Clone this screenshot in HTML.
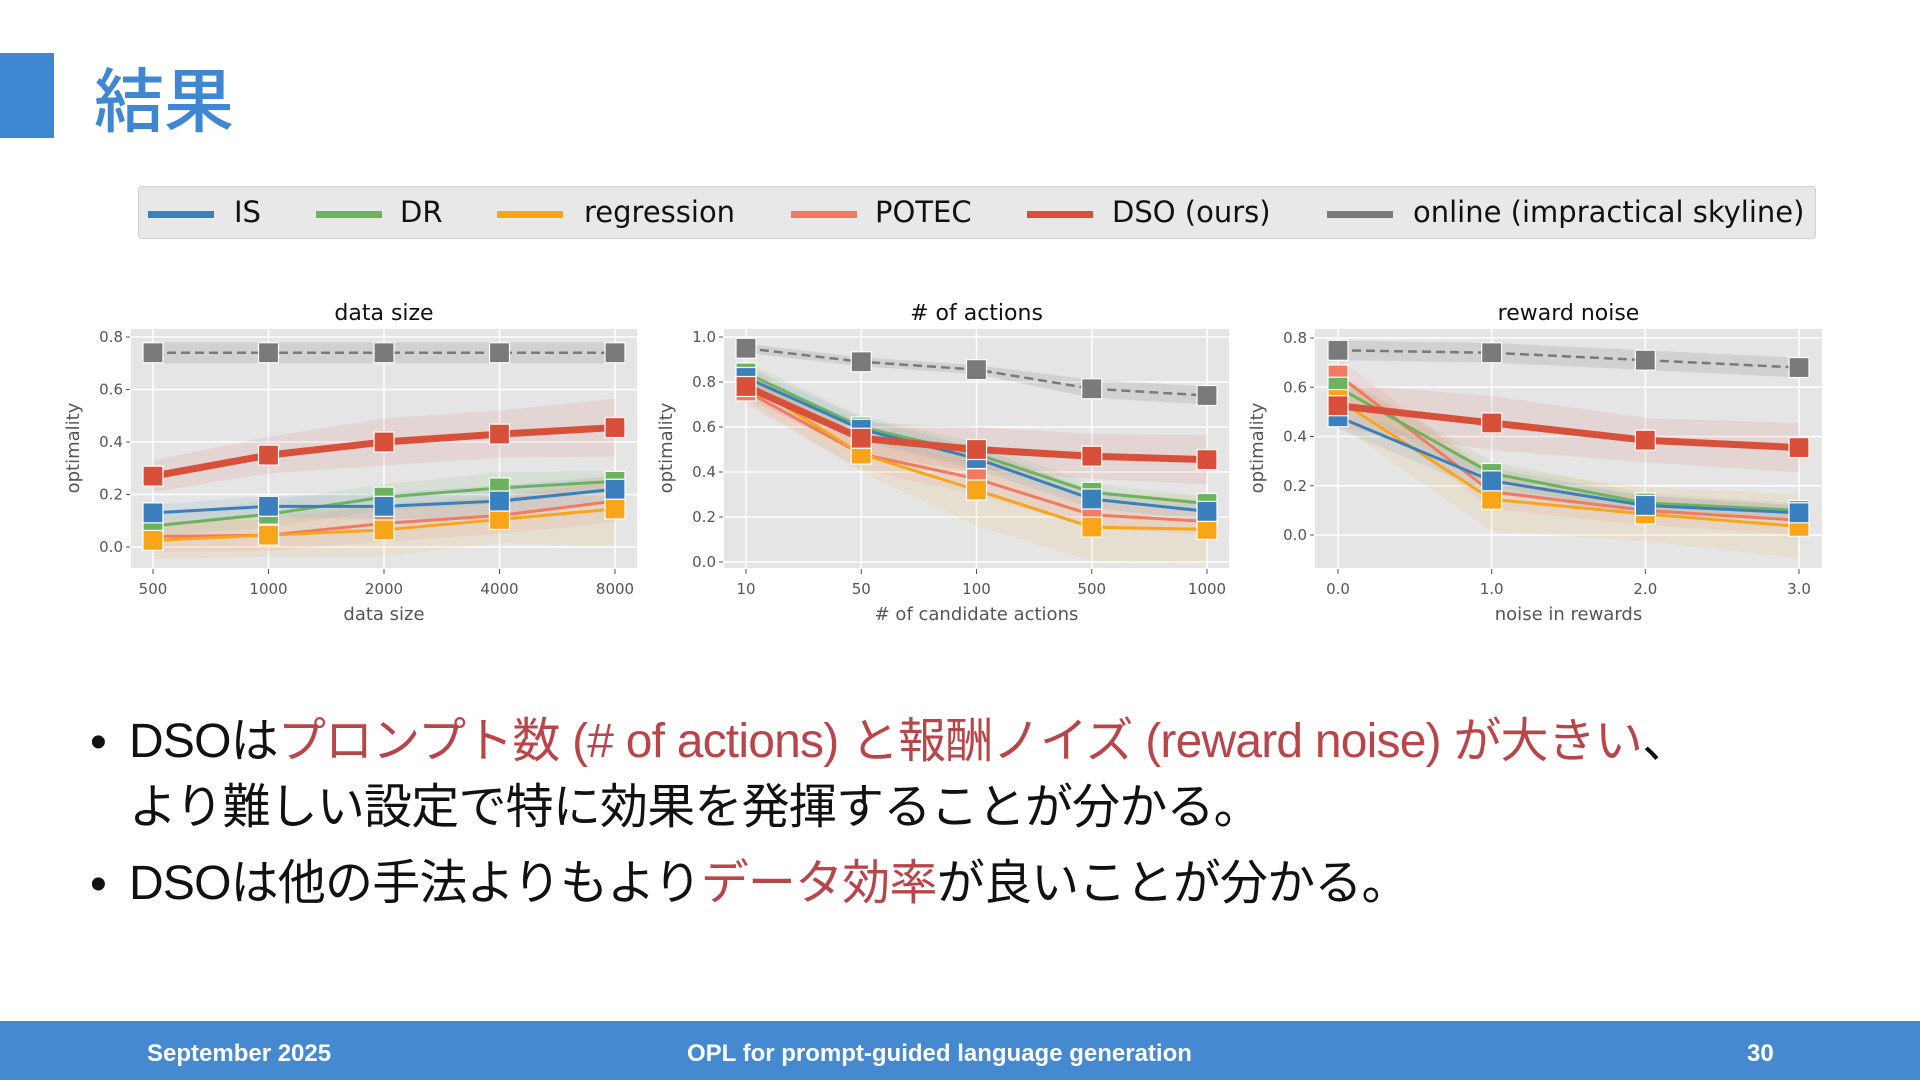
<!DOCTYPE html>
<html><head><meta charset="utf-8">
<style>
body{margin:0;width:1920px;height:1080px;background:#fff;position:relative;overflow:hidden;font-family:"Liberation Sans","Noto Sans CJK JP",sans-serif}
.abs{position:absolute}
#bar{left:0;top:53px;width:54px;height:85px;background:#3f87d0}
#title{left:94px;top:52px;font-size:70px;color:#3f87d0;font-family:"Noto Sans CJK JP",sans-serif;line-height:90px;font-weight:500}
#legend{left:138px;top:186px;width:1676px;height:51px;background:#e8e8e8;border:1px solid #cfcfcf;border-radius:4px}
.li{position:absolute;top:24px;height:7px;width:66px}
.lt{position:absolute;top:8px;font-size:29px;font-family:"DejaVu Sans",sans-serif;color:#111;white-space:nowrap;line-height:34px}
.bul{font-size:48px;white-space:nowrap;line-height:60px;color:#111;font-family:"Liberation Sans","Noto Sans CJK JP",sans-serif;letter-spacing:-0.8px}
.dot{font-size:48px;line-height:60px;color:#111}
.red{color:#b8454a}
#footer{left:0;top:1021px;width:1920px;height:59px;background:#4589d1}
.ft{position:absolute;top:19px;color:#fff;font-weight:bold;font-size:24px;font-family:"Liberation Sans",sans-serif;white-space:nowrap}
</style></head><body>
<div class="abs" id="bar"></div>
<div class="abs" id="title">結果</div>

<div class="abs" id="legend">
 <div class="li" style="left:9px;background:#3a80bd"></div><div class="lt" style="left:95px">IS</div>
 <div class="li" style="left:177px;background:#6cb35e"></div><div class="lt" style="left:261px">DR</div>
 <div class="li" style="left:358px;background:#f9a51a"></div><div class="lt" style="left:445px">regression</div>
 <div class="li" style="left:652px;background:#f27a62"></div><div class="lt" style="left:736px">POTEC</div>
 <div class="li" style="left:888px;background:#d9503a"></div><div class="lt" style="left:973px">DSO (ours)</div>
 <div class="li" style="left:1188px;background:#7a7a7a"></div><div class="lt" style="left:1274px">online (impractical skyline)</div>
</div>

<svg class="abs" id="charts" style="left:0;top:0" width="1920" height="700"></svg>

<div class="abs dot" style="left:90px;top:713px">•</div>
<div class="abs bul" style="left:129px;top:712px">DSOは<span class="red">プロンプト数 (# of actions) と報酬ノイズ (reward noise) が大きい</span>、</div>
<div class="abs bul" style="left:129px;top:778px">より難しい設定で特に効果を発揮することが分かる。</div>
<div class="abs dot" style="left:90px;top:855px">•</div>
<div class="abs bul" style="left:129px;top:854px">DSOは他の手法よりもより<span class="red">データ効率</span>が良いことが分かる。</div>

<div class="abs" id="footer">
 <div class="ft" style="left:147px">September 2025</div>
 <div class="ft" style="left:687px">OPL for prompt-guided language generation</div>
 <div class="ft" style="left:1747px">30</div>
</div>

<script>
// ---- data ----
const seriesNames = ["online","IS","DR","regression","POTEC","DSO"];
const seriesColors = ["#7a7a7a","#3a80bd","#6cb35e","#f9a51a","#f27a62","#d9503a"];

const c1Cats = ["500","1000","2000","4000","8000"];
const c1Online = [0.74,0.74,0.74,0.74,0.74];
const c1IS = [0.13,0.155,0.155,0.175,0.22];
const c1DR = [0.08,0.125,0.19,0.225,0.25];
const c1Reg = [0.025,0.045,0.065,0.105,0.145];
const c1Potec = [0.04,0.045,0.09,0.12,0.175];
const c1DSO = [0.27,0.35,0.40,0.43,0.455];
const c1OnlineErr = [0.04,0.04,0.04,0.04,0.04];
const c1ISErr = [0.03,0.04,0.05,0.06,0.05];
const c1DRErr = [0.04,0.05,0.05,0.06,0.04];
const c1RegErr = [0.07,0.08,0.10,0.09,0.14];
const c1PotecErr = [0.06,0.06,0.07,0.07,0.08];
const c1DSOErr = [0.06,0.07,0.09,0.09,0.11];
const c1Ticks = [0,0.2,0.4,0.6,0.8];

const c2Cats = ["10","50","100","500","1000"];
const c2Online = [0.95,0.89,0.855,0.77,0.74];
const c2IS = [0.82,0.59,0.46,0.28,0.225];
const c2DR = [0.84,0.60,0.48,0.31,0.26];
const c2Reg = [0.80,0.48,0.32,0.155,0.145];
const c2Potec = [0.76,0.48,0.37,0.21,0.18];
const c2DSO = [0.78,0.55,0.50,0.47,0.455];
const c2OnlineErr = [0.02,0.02,0.02,0.04,0.04];
const c2ISErr = [0.05,0.05,0.05,0.04,0.04];
const c2DRErr = [0.05,0.05,0.05,0.04,0.03];
const c2RegErr = [0.08,0.08,0.16,0.15,0.15];
const c2PotecErr = [0.06,0.07,0.07,0.06,0.06];
const c2DSOErr = [0.05,0.07,0.10,0.10,0.11];
const c2Ticks = [0,0.2,0.4,0.6,0.8,1.0];

const c3Cats = ["0.0","1.0","2.0","3.0"];
const c3Online = [0.75,0.74,0.71,0.68];
const c3IS = [0.48,0.22,0.12,0.09];
const c3DR = [0.60,0.25,0.13,0.10];
const c3Reg = [0.55,0.145,0.085,0.035];
const c3Potec = [0.65,0.175,0.10,0.06];
const c3DSO = [0.525,0.455,0.385,0.355];
const c3OnlineErr = [0.04,0.04,0.04,0.04];
const c3ISErr = [0.05,0.05,0.04,0.03];
const c3DRErr = [0.05,0.05,0.04,0.03];
const c3RegErr = [0.10,0.13,0.11,0.13];
const c3PotecErr = [0.07,0.07,0.06,0.06];
const c3DSOErr = [0.09,0.11,0.09,0.10];
const c3Ticks = [0,0.2,0.4,0.6,0.8];

// draw order of series (indices into seriesNames)
const drawOrder = [0,4,2,3,1,5];

// ---- drawing ----
const NS="http://www.w3.org/2000/svg";
const svg=document.getElementById('charts');
function mk(tag,attrs,parent){const e=document.createElementNS(NS,tag);for(const k in attrs)e.setAttribute(k,attrs[k]);(parent||svg).appendChild(e);return e;}

function drawChart(cfg){
  const g=mk('g',{});
  
  
  const n=cfg.cats.length;
  const xs=i=>cfg.x0+(cfg.x1-cfg.x0)*i/(n-1);
  const ys=v=>cfg.yZero+(cfg.yTop-cfg.yZero)*(v/cfg.topVal);
  const bg=mk('rect',{x:cfg.px0,y:329,width:cfg.px1-cfg.px0,height:239,fill:'#e5e5e5'},g);
  
  
  cfg.ticks.forEach(t=>{
    mk('line',{x1:cfg.px0,x2:cfg.px1,y1:ys(t),y2:ys(t),stroke:'#fff','stroke-width':1.5},g);
    mk('line',{x1:cfg.px0-5,x2:cfg.px0-1,y1:ys(t),y2:ys(t),stroke:'#555','stroke-width':1},g);
    const tl=mk('text',{x:cfg.px0-8,y:ys(t)+5,'text-anchor':'end','font-size':15,fill:'#555','font-family':'DejaVu Sans, sans-serif'},g);
    tl.textContent=t.toFixed(1);
    
    
  });
  cfg.cats.forEach((c,i)=>{
    mk('line',{x1:xs(i),x2:xs(i),y1:329,y2:568,stroke:'#fff','stroke-width':1.5},g);
    mk('line',{x1:xs(i),x2:xs(i),y1:569,y2:574,stroke:'#555','stroke-width':1},g);
    const tl=mk('text',{x:xs(i),y:594,'text-anchor':'middle','font-size':15,fill:'#555','font-family':'DejaVu Sans, sans-serif'},g);
    tl.textContent=c;
    
    
  });
  const mid=(cfg.px0+cfg.px1)/2;
  const tt=mk('text',{x:mid,y:320,'text-anchor':'middle','font-size':22,fill:'#111','font-family':'DejaVu Sans, sans-serif'},g);
  tt.textContent=cfg.title;
  
  
  const xl=mk('text',{x:mid,y:620,'text-anchor':'middle','font-size':18,fill:'#555','font-family':'DejaVu Sans, sans-serif'},g);
  xl.textContent=cfg.xlabel;
  
  
  const yl=mk('text',{x:0,y:0,'text-anchor':'middle','font-size':18,fill:'#555','font-family':'DejaVu Sans, sans-serif',transform:`translate(${cfg.px0-52},448) rotate(-90)`},g);
  yl.textContent='optimality';
  
  
  // bands
  drawOrder.forEach(si=>{
    const s=cfg.series[si];
    let pts=s.v.map((v,i)=>xs(i)+','+ys(v+s.e[i]));
    for(let i=n-1;i>=0;i--)pts.push(xs(i)+','+ys(s.v[i]-s.e[i]));
    const b=mk('polygon',{points:pts.join(' '),fill:seriesColors[si],'fill-opacity':si===0?0.18:0.1},g);
    
    
  });
  drawOrder.forEach(si=>{
    const s=cfg.series[si];
    const d=s.v.map((v,i)=>(i?'L':'M')+xs(i)+' '+ys(v)).join(' ');
    const p=mk('path',{d:d,fill:'none',stroke:seriesColors[si],'stroke-width':si===5?7:(si===0?2.5:3),'stroke-dasharray':si===0?'9,5':'none'},g);
    
    
    s.v.forEach((v,i)=>{
      const m=mk('rect',{x:xs(i)-10,y:ys(v)-10,width:20,height:20,fill:seriesColors[si],stroke:'#fff','stroke-width':1.2},g);
      
      
    });
  });
}
drawChart({name:'chart-data-size',title:'data size',xlabel:'data size',cats:c1Cats,ticks:c1Ticks,px0:131,px1:637,x0:153,x1:615,yZero:547,yTop:337,topVal:0.8,
  series:[{v:c1Online,e:c1OnlineErr},{v:c1IS,e:c1ISErr},{v:c1DR,e:c1DRErr},{v:c1Reg,e:c1RegErr},{v:c1Potec,e:c1PotecErr},{v:c1DSO,e:c1DSOErr}]});
drawChart({name:'chart-num-actions',title:'# of actions',xlabel:'# of candidate actions',cats:c2Cats,ticks:c2Ticks,px0:724,px1:1229,x0:746,x1:1207,yZero:562,yTop:337,topVal:1.0,
  series:[{v:c2Online,e:c2OnlineErr},{v:c2IS,e:c2ISErr},{v:c2DR,e:c2DRErr},{v:c2Reg,e:c2RegErr},{v:c2Potec,e:c2PotecErr},{v:c2DSO,e:c2DSOErr}]});
drawChart({name:'chart-reward-noise',title:'reward noise',xlabel:'noise in rewards',cats:c3Cats,ticks:c3Ticks,px0:1315,px1:1822,x0:1338,x1:1799,yZero:535,yTop:338,topVal:0.8,
  series:[{v:c3Online,e:c3OnlineErr},{v:c3IS,e:c3ISErr},{v:c3DR,e:c3DRErr},{v:c3Reg,e:c3RegErr},{v:c3Potec,e:c3PotecErr},{v:c3DSO,e:c3DSOErr}]});
</script>
</body></html>
